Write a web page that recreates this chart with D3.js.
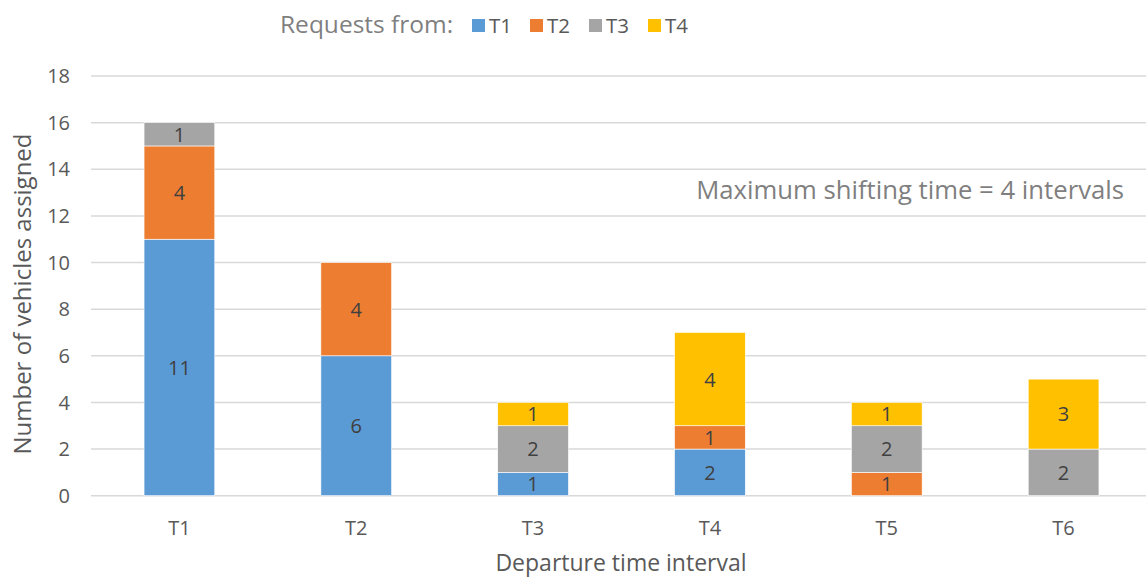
<!DOCTYPE html>
<html>
<head>
<meta charset="utf-8">
<script src="https://cdn.jsdelivr.net/npm/d3@7"></script>
<style>
  body { margin: 0; background: #fff; }
  svg { display: block; font-family: "Open Sans", Lato, sans-serif; }
</style>
</head>
<body>
<svg id="chart" width="1146" height="579"></svg>
<script>
// Departure intervals on the x axis
const intervals = ["T1", "T2", "T3", "T4", "T5", "T6"];
// Origin of the requests (stack series)
const origins = ["T1", "T2", "T3", "T4"];
// Vehicles per departure interval, one array per origin
const fromT1 = [11, 6, 1, 2, 0, 0];
const fromT2 = [4, 4, 0, 1, 1, 0];
const fromT3 = [1, 0, 2, 0, 2, 2];
const fromT4 = [0, 0, 1, 4, 1, 3];
const yTicks = [0, 2, 4, 6, 8, 10, 12, 14, 16, 18];
const colors = ["#5B9BD5", "#ED7D31", "#A5A5A5", "#FFC000"];

const rows = intervals.map((t, i) => ({
  interval: t, T1: fromT1[i], T2: fromT2[i], T3: fromT3[i], T4: fromT4[i]
}));

const svg = d3.select("#chart");
const x = d3.scaleBand().domain(intervals).range([91, 1152])
  .paddingInner(0.6).paddingOuter(0.3);
const y = d3.scaleLinear().domain([0, 18]).range([495.7, 76]);
const color = d3.scaleOrdinal().domain(origins).range(colors);

// Gridlines
svg.append("g").selectAll("line").data(yTicks).join("line")
  .attr("x1", 91).attr("x2", 1146)
  .attr("y1", d => y(d)).attr("y2", d => y(d))
  .attr("stroke", "#d9d9d9").attr("stroke-width", 1.5);

// Y tick labels
svg.append("g").selectAll("text").data(yTicks).join("text")
  .attr("x", 70).attr("y", d => y(d)).attr("dy", "0.36em")
  .attr("text-anchor", "end").attr("font-size", 20).attr("fill", "#595959")
  .text(d => d);

// X tick labels
svg.append("g").selectAll("text").data(intervals).join("text")
  .attr("x", d => x(d) + x.bandwidth() / 2).attr("y", 535)
  .attr("text-anchor", "middle").attr("font-size", 20).attr("fill", "#595959")
  .text(d => d);

// Stacked bars
const series = d3.stack().keys(origins)(rows);
const layers = svg.append("g").selectAll("g").data(series).join("g")
  .attr("fill", d => color(d.key));
layers.selectAll("rect").data(d => d.filter(p => p[1] - p[0] > 0)).join("rect")
  .attr("x", d => x(d.data.interval))
  .attr("width", x.bandwidth())
  .attr("y", d => y(d[1]))
  .attr("height", d => y(d[0]) - y(d[1]))
  .attr("stroke", "#ffffff").attr("stroke-width", 0.6);

// Value labels inside segments
layers.selectAll("text").data(d => d.filter(p => p[1] - p[0] > 0)).join("text")
  .attr("x", d => x(d.data.interval) + x.bandwidth() / 2)
  .attr("y", d => (y(d[0]) + y(d[1])) / 2).attr("dy", "0.37em")
  .attr("text-anchor", "middle").attr("font-size", 20).attr("fill", "#404040")
  .text(d => d[1] - d[0]);

// Axis titles
svg.append("text")
  .attr("transform", "translate(31,294) rotate(-90)")
  .attr("text-anchor", "middle").attr("font-size", 24).attr("fill", "#595959")
  .text("Number of vehicles assigned");
svg.append("text")
  .attr("x", 621).attr("y", 571)
  .attr("text-anchor", "middle").attr("font-size", 23).attr("fill", "#595959")
  .text("Departure time interval");

// Annotation
svg.append("text")
  .attr("x", 1124).attr("y", 199)
  .attr("text-anchor", "end").attr("font-size", 25.7).attr("fill", "#7f7f7f")
  .text("Maximum shifting time = 4 intervals");

// Legend
const legend = svg.append("g");
legend.append("text").attr("x", 280).attr("y", 33)
  .attr("font-size", 24.5).attr("fill", "#7f7f7f").text("Requests from:");
const lx = [472, 530, 589, 648];
const items = legend.selectAll("g.item").data(origins).join("g")
  .attr("transform", (d, i) => `translate(${lx[i]},0)`);
items.append("rect").attr("x", 0).attr("y", 19).attr("width", 13).attr("height", 13)
  .attr("fill", d => color(d));
items.append("text").attr("x", 17).attr("y", 33)
  .attr("font-size", 20.5).attr("fill", "#595959").text(d => d);
</script>
</body>
</html>
